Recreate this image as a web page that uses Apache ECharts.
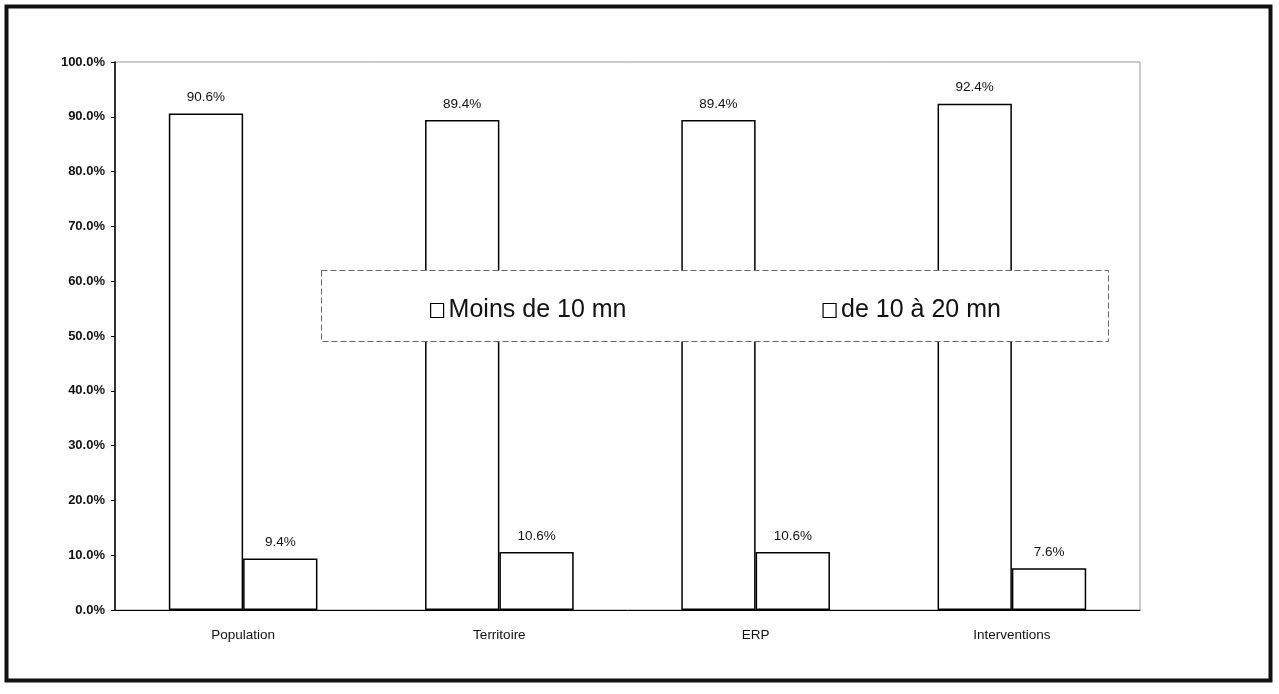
<!DOCTYPE html>
<html>
<head>
<meta charset="utf-8">
<script src="https://cdn.jsdelivr.net/npm/echarts@6/dist/echarts.min.js"></script>
<style>
html,body{margin:0;padding:0;background:#fff;}
#c{width:1279px;height:694px;}
</style>
</head>
<body>
<div id="c"></div>
<script>
const categories = ['Population', 'Territoire', 'ERP', 'Interventions'];
const seriesNames = ['Moins de 10 mn', 'de 10 à 20 mn'];
const lessThan10 = [90.6, 89.4, 89.4, 92.4];
const from10to20 = [9.4, 10.6, 10.6, 7.6];

const chart = echarts.init(document.getElementById('c'));
const font = 'Liberation Sans, Arial, sans-serif';
const barStyle = { color: '#fff', borderColor: '#000', borderWidth: 1.5 };
const lbl = {
  show: true, position: 'top', distance: 9, color: '#111', fontSize: 13.5, fontFamily: font,
  formatter: p => p.value.toFixed(1) + '%'
};
chart.setOption({
  backgroundColor: '#fff',
  animation: false,
  textStyle: { fontFamily: font },
  grid: { left: 115, right: 139, top: 62, bottom: 84, show: true, borderColor: '#999', borderWidth: 1, backgroundColor: '#fff' },
  legend: {
    data: seriesNames,
    left: 425, top: 293,
    icon: 'rect', itemWidth: 13, itemHeight: 14, itemGap: 196,
    itemStyle: { color: '#fff', borderColor: '#000', borderWidth: 1.2 },
    textStyle: { fontSize: 25, color: '#111', fontFamily: font },
    z: 10
  },
  graphic: [
    { type: 'rect', left: 321, top: 270, z: 8,
      shape: { width: 787, height: 71 },
      style: { fill: '#fff', stroke: '#666', lineWidth: 1, lineDash: [6, 3] } },
    { type: 'rect', left: 4, top: 4, z: 0, silent: true,
      shape: { width: 1264, height: 674 },
      style: { fill: 'none', stroke: '#111', lineWidth: 4 } }
  ],
  xAxis: {
    type: 'category', data: categories,
    axisLine: { lineStyle: { color: '#000', width: 1 } },
    axisTick: { show: false },
    axisLabel: { color: '#111', fontSize: 13.5, margin: 18, fontFamily: font }
  },
  yAxis: {
    type: 'value', min: 0, max: 100, interval: 10,
    axisLine: { show: true, lineStyle: { color: '#000', width: 1.5 } },
    axisTick: { show: true, length: 4, lineStyle: { color: '#000' } },
    splitLine: { show: false },
    axisLabel: { color: '#111', fontSize: 13, fontWeight: 'bold', margin: 10, fontFamily: font,
      formatter: v => v.toFixed(1) + '%' }
  },
  series: [
    { name: seriesNames[0], type: 'bar', data: lessThan10, barGap: '0%', barCategoryGap: '42%', itemStyle: barStyle, label: lbl },
    { name: seriesNames[1], type: 'bar', data: from10to20, barGap: '0%', barCategoryGap: '42%', itemStyle: barStyle, label: lbl }
  ]
});
</script>
</body>
</html>
